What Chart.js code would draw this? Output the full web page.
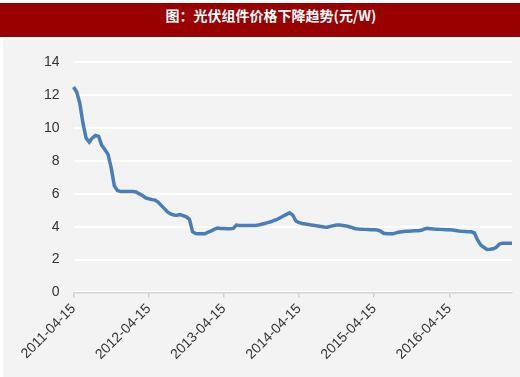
<!DOCTYPE html>
<html>
<head>
<meta charset="utf-8">
<script src="https://cdn.jsdelivr.net/npm/chart.js@4"></script>
<style>
  html, body { margin: 0; padding: 0; background: #fff; }
  body { width: 520px; height: 377px; position: relative; overflow: hidden; }
  #titleBar {
    position: absolute; left: 0; top: 3px; width: 520px; height: 34px;
    background: #990000; color: #fff;
    font: bold 14px "Noto Sans CJK SC", "Liberation Sans", sans-serif;
    text-align: center; line-height: 24px; text-indent: 22px;
  }
  #panel { position: absolute; left: 3px; top: 39px; width: 517px; height: 338px; background: #f3f3f3; }
  #wrap { position: absolute; left: 0; top: 40px; width: 520px; height: 337px; }
</style>
</head>
<body>
<div id="titleBar">图：光伏组件价格下降趋势(元/W)</div>
<div id="panel"></div>
<div id="wrap"><canvas id="priceChart"></canvas></div>
<script>
// Semi-monthly price readings, 2011-04-15 .. 2017-02-15 (元/W)
const prices = [
  12.5, 12.2, 11.5, 10.3, 9.4, 9.15, 9.4, 9.55, 9.5, 8.95,
  8.7, 8.4, 7.6, 6.5, 6.2, 6.15, 6.15, 6.15, 6.15, 6.15,
  6.12, 6.0, 5.9, 5.75, 5.7, 5.65, 5.62, 5.5, 5.3, 5.1,
  4.9, 4.78, 4.72, 4.7, 4.74, 4.68, 4.6, 4.45, 3.7, 3.58,
  3.57, 3.57, 3.57, 3.68, 3.75, 3.85, 3.92, 3.9, 3.9, 3.88,
  3.88, 3.9, 4.1, 4.08, 4.08, 4.07, 4.07, 4.08, 4.08, 4.1,
  4.15, 4.2, 4.25, 4.3, 4.38, 4.45, 4.55, 4.65, 4.75, 4.85,
  4.7, 4.35, 4.25, 4.2, 4.17, 4.14, 4.1, 4.08, 4.05, 4.02,
  3.98, 3.97, 4.02, 4.07, 4.1, 4.1, 4.08, 4.05, 4.0, 3.95,
  3.88, 3.86, 3.85, 3.84, 3.83, 3.82, 3.82, 3.8, 3.73, 3.6,
  3.57, 3.57, 3.57, 3.63, 3.68, 3.7, 3.72, 3.73, 3.74, 3.75,
  3.76, 3.78, 3.86, 3.9, 3.88, 3.86, 3.85, 3.84, 3.83, 3.82,
  3.81, 3.8, 3.77, 3.74, 3.72, 3.71, 3.7, 3.69, 3.62, 3.2,
  2.9, 2.75, 2.62, 2.63, 2.66, 2.75, 2.95, 3.0, 3.0, 3.0,
  3.0
];

// Tick labels shown on the x axis
const yearTicks = ['2011-04-15', '2012-04-15', '2013-04-15', '2014-04-15', '2015-04-15', '2016-04-15'];

// Dates for each reading (1st and 15th of each month)
const dates = [];
for (let y = 2011, m = 4, d = 15; dates.length < prices.length;) {
  dates.push(y + '-' + String(m).padStart(2, '0') + '-' + String(d).padStart(2, '0'));
  if (d === 1) { d = 15; } else { d = 1; m++; if (m > 12) { m = 1; y++; } }
}

new Chart(document.getElementById('priceChart'), {
    type: 'line',
    data: {
        labels: dates,
        datasets: [{
            label: '光伏组件价格',
            data: prices,
            borderColor: '#4a7ebb',
            borderWidth: 3.5,
            pointRadius: 0,
            tension: 0,
            fill: false
        }]
    },
    options: {
        responsive: true,
        maintainAspectRatio: false,
        animation: false,
        layout: { padding: { top: 18, right: 8, bottom: 11, left: 30 } },
        plugins: {
            legend: { display: false },
            tooltip: { enabled: false }
        },
        scales: {
            x: {
                grid: { drawOnChartArea: false, color: '#cfcfcf', lineWidth: 1.5, tickLength: 5 },
                border: { color: '#d3d3d3', width: 1.5 },
                ticks: {
                    autoSkip: false,
                    maxRotation: 45,
                    minRotation: 45,
                    color: '#333',
                    font: { family: 'Liberation Sans', size: 14 },
                    callback: function (value) {
                        const lab = this.getLabelForValue(value);
                        return yearTicks.includes(lab) ? lab : null;
                    }
                }
            },
            y: {
                min: 0,
                max: 14,
                grid: { color: '#ffffff', lineWidth: 2, drawTicks: false },
                border: { display: false },
                ticks: {
                    stepSize: 2,
                    padding: 14,
                    color: '#333',
                    font: { family: 'Liberation Sans', size: 14 }
                }
            }
        }
    }
});
</script>
</body>
</html>
